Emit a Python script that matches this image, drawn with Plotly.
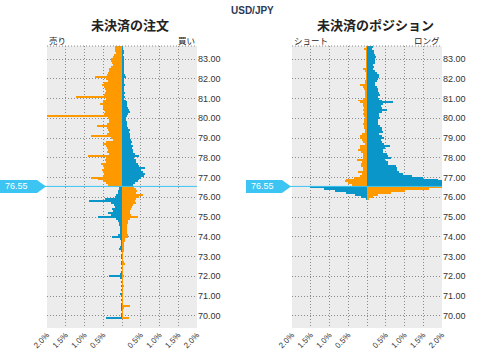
import numpy as np
import plotly.graph_objects as go

# ---------------- data ----------------
pair = "USD/JPY"
current_price = 76.55
bucket = 0.1

# price buckets (centres), top -> bottom
order_levels = np.round(np.arange(83.6, 69.85, -0.1), 2)      # 83.6 ... 69.9
position_levels = np.round(np.arange(83.6, 75.85, -0.1), 2)   # 83.6 ... 75.9

# open orders, % of total (sell side = left, buy side = right)
orders_sell = [
    0.18, 0.20, 0.20, 0.16, 0.22, 0.25, 0.29, 0.29, 0.27, 0.25,   # 83.6-82.7
    0.30, 0.34, 0.36, 0.38, 0.40, 0.72, 0.43, 0.38, 0.47, 0.54,   # 82.6-81.7
    0.47, 0.45, 0.43, 0.45, 0.48, 1.23, 0.43, 0.50, 0.52, 0.58,   # 81.6-80.7
    0.50, 0.52, 0.47, 0.45, 0.47, 2.10, 0.38, 0.34, 0.36, 0.40,   # 80.6-79.7
    0.67, 0.40, 0.38, 0.36, 0.40, 0.83, 0.30, 0.25, 0.42, 0.50,   # 79.6-78.7
    0.43, 0.40, 0.38, 0.40, 0.36, 0.92, 0.43, 0.45, 0.43, 0.56,   # 78.6-77.7
    0.50, 0.48, 0.54, 0.50, 0.49, 0.52, 0.83, 0.65, 0.50, 0.42,   # 77.6-76.7
    0.38, 0.08, 0.08, 0.10, 0.12, 0.17, 0.20, 0.46, 0.88, 0.30,   # 76.6-75.7
    0.22, 0.20, 0.28, 0.25, 0.37, 0.30, 0.64, 0.15, 0.10, 0.08,   # 75.6-74.7
    0.07, 0.06, 0.06, 0.05, 0.06, 0.10, 0.26, 0.05, 0.04, 0.04,   # 74.6-73.7
    0.03, 0.05, 0.09, 0.03, 0.00, 0.03, 0.04, 0.03, 0.00, 0.02,   # 73.6-72.7
    0.03, 0.00, 0.02, 0.00, 0.02, 0.05, 0.36, 0.06, 0.00, 0.02,   # 72.6-71.7
    0.00, 0.02, 0.00, 0.02, 0.00, 0.06, 0.03, 0.00, 0.02, 0.00,   # 71.6-70.7
    0.02, 0.03, 0.02, 0.03, 0.00, 0.02, 0.03, 0.44,               # 70.6-69.9
]
orders_buy = [
    0.03, 0.03, 0.04, 0.04, 0.03, 0.04, 0.05, 0.04, 0.05, 0.06,
    0.05, 0.04, 0.05, 0.06, 0.08, 0.10, 0.06, 0.05, 0.06, 0.07,
    0.06, 0.05, 0.06, 0.07, 0.06, 0.08, 0.06, 0.10, 0.12, 0.14,
    0.12, 0.15, 0.18, 0.20, 0.17, 0.14, 0.10, 0.11, 0.12, 0.14,
    0.13, 0.16, 0.20, 0.19, 0.21, 0.22, 0.20, 0.24, 0.26, 0.25,
    0.28, 0.27, 0.30, 0.28, 0.35, 0.46, 0.33, 0.36, 0.38, 0.42,
    0.45, 0.60, 0.50, 0.55, 0.62, 0.58, 0.50, 0.44, 0.42, 0.35,
    0.30, 0.31, 0.38, 0.40, 0.38, 0.56, 0.45, 0.36, 0.34, 0.38,
    0.30, 0.26, 0.25, 0.22, 0.20, 0.24, 0.43, 0.20, 0.16, 0.15,
    0.14, 0.13, 0.12, 0.12, 0.14, 0.15, 0.16, 0.08, 0.07, 0.06,
    0.05, 0.05, 0.04, 0.04, 0.03, 0.03, 0.03, 0.02, 0.03, 0.04,
    0.08, 0.03, 0.02, 0.03, 0.02, 0.03, 0.05, 0.03, 0.02, 0.03,
    0.02, 0.05, 0.03, 0.02, 0.02, 0.03, 0.02, 0.03, 0.02, 0.02,
    0.03, 0.22, 0.04, 0.02, 0.02, 0.03, 0.02, 0.19,
]

# open positions, % of total (short = left, long = right)
positions_short = [
    0.03, 0.08, 0.03, 0.03, 0.02, 0.02, 0.02, 0.02, 0.03, 0.02,   # 83.6-82.7
    0.03, 0.10, 0.05, 0.04, 0.03, 0.03, 0.04, 0.05, 0.06, 0.19,   # 82.6-81.7
    0.10, 0.08, 0.06, 0.05, 0.06, 0.05, 0.10, 0.23, 0.20, 0.12,   # 81.6-80.7
    0.10, 0.08, 0.10, 0.08, 0.10, 0.08, 0.05, 0.08, 0.08, 0.12,   # 80.6-79.7
    0.08, 0.08, 0.05, 0.05, 0.14, 0.19, 0.19, 0.14, 0.10, 0.05,   # 79.6-78.7
    0.19, 0.19, 0.23, 0.15, 0.12, 0.11, 0.10, 0.28, 0.14, 0.17,   # 78.6-77.7
    0.17, 0.12, 0.12, 0.23, 0.14, 0.20, 0.35, 0.55, 0.59, 0.50,   # 77.6-76.7
    0.41, 1.53, 1.14, 0.85, 0.57, 0.31, 0.15, 0.03,               # 76.6-75.9
]
positions_long = [
    0.17, 0.14, 0.19, 0.19, 0.20, 0.24, 0.22, 0.21, 0.20, 0.17,
    0.18, 0.17, 0.22, 0.26, 0.32, 0.33, 0.30, 0.27, 0.22, 0.22,
    0.26, 0.28, 0.30, 0.32, 0.34, 0.30, 0.33, 0.40, 0.70, 0.42,
    0.38, 0.40, 0.52, 0.40, 0.33, 0.32, 0.35, 0.30, 0.30, 0.28,
    0.35, 0.39, 0.40, 0.42, 0.33, 0.40, 0.45, 0.37, 0.40, 0.45,
    0.61, 0.48, 0.42, 0.43, 0.52, 0.55, 0.63, 0.48, 0.57, 0.55,
    0.77, 0.80, 0.79, 0.85, 0.95, 1.20, 1.50, 1.90, 2.10, 2.10,
    2.10, 2.10, 1.65, 1.00, 0.63, 0.30, 0.15, 0.06,
]

x_tick_values = [-2.0, -1.5, -1.0, -0.5, 0.0, 0.5, 1.0, 1.5, 2.0]
x_tick_labels = ["2.0%", "1.5%", "1.0%", "0.5%", "", "0.5%", "1.0%", "1.5%", "2.0%"]
y_tick_values = list(range(70, 84))
y_tick_labels = [f"{v:.2f}" for v in y_tick_values]

assert len(orders_sell) == len(orders_buy) == len(order_levels)
assert len(positions_short) == len(positions_long) == len(position_levels)

# ---------------- style ----------------
ORANGE = "#ff9900"
BLUE = "#0a96c8"
PRICE = "#3cc4f2"
GRID = "#8c8c8c"
DOT = "1px,2px"
W, H = 478, 362
NUM_FONT = "Liberation Sans"
JP_FONT = "Noto Sans CJK JP"


def colours(levels, above, below):
    return [above if p > current_price else below for p in levels]


fig = go.Figure()


def add_panel(levels, left_vals, right_vals, xa, ya):
    fig.add_trace(go.Bar(
        y=levels, x=[-v for v in left_vals], base=0, orientation="h", width=bucket,
        marker=dict(color=colours(levels, ORANGE, BLUE), line=dict(width=0)),
        xaxis=xa, yaxis=ya, hoverinfo="skip"))
    fig.add_trace(go.Bar(
        y=levels, x=list(right_vals), base=0, orientation="h", width=bucket,
        marker=dict(color=colours(levels, BLUE, ORANGE), line=dict(width=0)),
        xaxis=xa, yaxis=ya, hoverinfo="skip"))


add_panel(order_levels, orders_sell, orders_buy, "x", "y")
add_panel(position_levels, positions_short, positions_long, "x2", "y2")

ydom = [1 - 328 / H, 1 - 46 / H]
xdom1 = [47 / W, 197 / W]
xdom2 = [292 / W, 442 / W]

xcommon = dict(range=[-2, 2], tickmode="array", tickvals=x_tick_values, ticktext=x_tick_labels,
               tickangle=-45, showgrid=True, gridcolor=GRID, griddash=DOT, gridwidth=1,
               zeroline=False, showline=False, ticks="", fixedrange=True, automargin=False,
               tickfont=dict(family=NUM_FONT, size=8, color="#333333"))
ycommon = dict(range=[69.38, 83.66], domain=ydom, side="right", tickmode="array",
               tickvals=y_tick_values, ticktext=y_tick_labels, showgrid=True,
               gridcolor=GRID, griddash=DOT, gridwidth=1, zeroline=False, ticks="",
               fixedrange=True, automargin=False,
               tickfont=dict(family=NUM_FONT, size=9, color="#333333"))

fig.update_layout(
    template="none",
    width=W, height=H, margin=dict(l=0, r=0, t=0, b=0, autoexpand=False),
    paper_bgcolor="white", plot_bgcolor="#ececec",
    showlegend=False, barmode="overlay", bargap=0,
    xaxis=dict(domain=xdom1, anchor="y", **xcommon),
    yaxis=dict(anchor="x", **ycommon),
    xaxis2=dict(domain=xdom2, anchor="y2", **xcommon),
    yaxis2=dict(anchor="x2", **ycommon),
)

shapes = []
# dotted top border of each plot
for xr, yr in (("x domain", "y domain"), ("x2 domain", "y2 domain")):
    shapes.append(dict(type="line", xref=xr, yref=yr, x0=0, x1=1, y0=1, y1=1,
                       line=dict(color=GRID, width=1, dash=DOT)))

# current price lines and labels
half = 0.33
for yr, x_line0, x_line1, box0, box1, tip in (
        ("y", 0, 197, 0, 37, 46),
        ("y2", 246, 442, 246, 282, 291)):
    shapes.append(dict(type="line", xref="paper", yref=yr,
                       x0=x_line0 / W, x1=x_line1 / W, y0=current_price, y1=current_price,
                       line=dict(color=PRICE, width=1)))
    path = (f"M {box0 / W},{current_price - half} L {box1 / W},{current_price - half} "
            f"L {tip / W},{current_price} L {box1 / W},{current_price + half} "
            f"L {box0 / W},{current_price + half} Z")
    shapes.append(dict(type="path", xref="paper", yref=yr, path=path,
                       fillcolor=PRICE, line=dict(width=0)))

fig.update_layout(shapes=shapes)

ann = []
for yr, x0 in (("y", 3), ("y2", 249)):
    ann.append(dict(text=f"{current_price:.2f}", xref="paper", yref=yr, x=x0 / W, y=current_price,
                    xanchor="left", yanchor="middle", showarrow=False,
                    font=dict(family=NUM_FONT, size=9, color="white")))

ann.append(dict(text=f"<b>{pair}</b>", xref="paper", yref="paper", x=252 / W, y=1 - 11 / H,
                xanchor="center", yanchor="middle", showarrow=False,
                font=dict(family=NUM_FONT, size=10, color="#2b3a55")))
for txt, xc in (("未決済の注文", 130), ("未決済のポジション", 375)):
    ann.append(dict(text=f"<b>{txt}</b>", xref="paper", yref="paper", x=xc / W, y=1 - 24 / H,
                    xanchor="center", yanchor="middle", showarrow=False,
                    font=dict(family=JP_FONT, size=13, color="#222222")))
for txt, xp, anchor in (("売り", 47, "left"), ("買い", 197, "right"),
                        ("ショート", 292, "left"), ("ロング", 442, "right")):
    ann.append(dict(text=txt, xref="paper", yref="paper", x=xp / W, y=1 - 40 / H,
                    xanchor=anchor, yanchor="middle", showarrow=False,
                    font=dict(family=JP_FONT, size=8.5, color="#222222")))

fig.update_layout(annotations=ann)

fig.write_html("out.html", config={"displayModeBar": False, "staticPlot": True},
               post_script="document.body.style.margin='0';")
